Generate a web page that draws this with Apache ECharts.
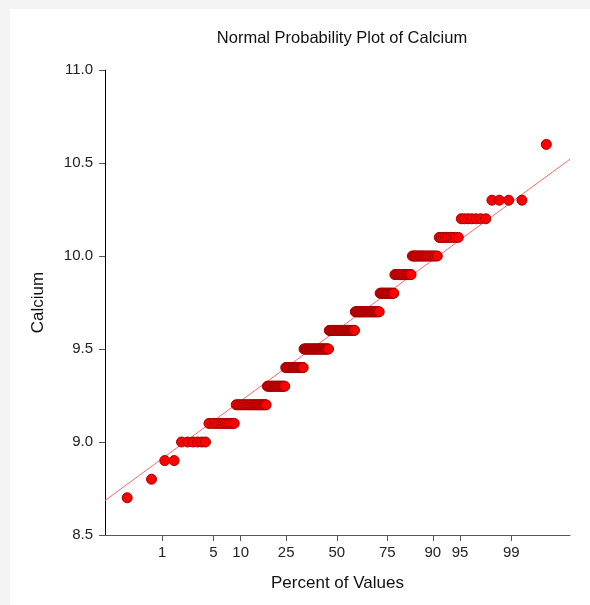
<!DOCTYPE html>
<html>
<head>
<meta charset="utf-8">
<script src="https://cdn.jsdelivr.net/npm/echarts@6/dist/echarts.min.js"></script>
<style>
html,body{margin:0;padding:0;background:#f4f4f4;}
#chart{width:590px;height:605px;}
</style>
</head>
<body>
<div id="chart"></div>
<script>
// Calcium values (distinct) and how many observations share each value
const calciumValues = [8.7, 8.8, 8.9, 9.0, 9.1, 9.2, 9.3, 9.4, 9.5, 9.6, 9.7, 9.8, 9.9, 10.0, 10.1, 10.2, 10.3, 10.6];
const calciumCounts = [1, 1, 2, 6, 11, 21, 17, 20, 31, 33, 29, 15, 15, 17, 9, 7, 4, 1];
// Percent tick labels on the normal-probability axis
const percentTicks = [1, 5, 10, 25, 50, 75, 90, 95, 99];
// Y tick labels
const yTicks = [8.5, 9.0, 9.5, 10.0, 10.5, 11.0];
// Reference line (value = intercept + slope * normal score)
const refIntercept = 9.6;
const refSlope = 0.296;

// inverse standard normal CDF (Acklam)
function qnorm(p) {
  const a = [-3.969683028665376e+01, 2.209460984245205e+02, -2.759285104469687e+02, 1.383577518672690e+02, -3.066479806614716e+01, 2.506628277459239e+00];
  const b = [-5.447609879822406e+01, 1.615858368580409e+02, -1.556989798598866e+02, 6.680131188771972e+01, -1.328068155288572e+01];
  const c = [-7.784894002430293e-03, -3.223964580411365e-01, -2.400758277161838e+00, -2.549732539343734e+00, 4.374664141464968e+00, 2.938163982698783e+00];
  const d = [7.784695709041462e-03, 3.224671290700398e-01, 2.445134137142996e+00, 3.754408661907416e+00];
  const pl = 0.02425, ph = 1 - pl;
  let q, r;
  if (p < pl) {
    q = Math.sqrt(-2 * Math.log(p));
    return (((((c[0]*q+c[1])*q+c[2])*q+c[3])*q+c[4])*q+c[5]) / ((((d[0]*q+d[1])*q+d[2])*q+d[3])*q+1);
  } else if (p <= ph) {
    q = p - 0.5; r = q*q;
    return (((((a[0]*r+a[1])*r+a[2])*r+a[3])*r+a[4])*r+a[5])*q / (((((b[0]*r+b[1])*r+b[2])*r+b[3])*r+b[4])*r+1);
  } else {
    q = Math.sqrt(-2 * Math.log(1 - p));
    return -(((((c[0]*q+c[1])*q+c[2])*q+c[3])*q+c[4])*q+c[5]) / ((((d[0]*q+d[1])*q+d[2])*q+d[3])*q+1);
  }
}

// build sorted observations and their normal scores (Blom)
const obs = [];
calciumValues.forEach((v, k) => { for (let j = 0; j < calciumCounts[k]; j++) obs.push(v); });
const n = obs.length;
const points = obs.map((v, idx) => [qnorm((idx + 1 - 0.375) / (n + 0.25)), v]);

const xMin = -3.09, xMax = 3.11;
const tickZ = percentTicks.map(p => qnorm(p / 100));
const refData = [[xMin, refIntercept + refSlope * xMin], [xMax, refIntercept + refSlope * xMax]];

const chart = echarts.init(document.getElementById('chart'), null, {renderer: 'canvas'});
const font = 'Liberation Sans, Arial, sans-serif';
chart.setOption({
  backgroundColor: '#f4f4f4',
  animation: false,
  textStyle: {fontFamily: font},
  graphic: [{
    type: 'rect', z: -10, silent: true,
    shape: {x: 10, y: 9, width: 590, height: 610},
    style: {fill: '#ffffff'}
  }],
  title: {
    text: 'Normal Probability Plot of Calcium',
    left: 337, top: 25, textAlign: 'center',
    textStyle: {fontFamily: font, fontSize: 16.5, fontWeight: 'normal', color: '#111'}
  },
  grid: {left: 105, right: 20, top: 70, bottom: 70, containLabel: false},
  xAxis: {
    type: 'value', min: xMin, max: xMax,
    name: 'Percent of Values', nameLocation: 'middle', nameGap: 40,
    nameTextStyle: {fontFamily: font, fontSize: 17, color: '#111'},
    axisLine: {show: true, onZero: false, lineStyle: {color: '#555', width: 1}},
    axisTick: {show: true, length: 6, lineStyle: {color: '#555'}, customValues: tickZ},
    axisLabel: {
      fontFamily: font, fontSize: 15, color: '#222', margin: 10,
      customValues: tickZ,
      formatter: function (val) {
        let best = 0, bd = 1e9;
        tickZ.forEach((z, i) => { const dd = Math.abs(z - val); if (dd < bd) { bd = dd; best = i; } });
        return String(percentTicks[best]);
      }
    },
    splitLine: {show: false}
  },
  yAxis: {
    type: 'value', min: 8.5, max: 11.0, interval: 0.5,
    name: 'Calcium', nameLocation: 'middle', nameGap: 58, nameRotate: 90,
    nameTextStyle: {fontFamily: font, fontSize: 17, color: '#111'},
    axisLine: {show: true, onZero: false, lineStyle: {color: '#000', width: 1}},
    axisTick: {show: true, length: 6, lineStyle: {color: '#555'}},
    axisLabel: {
      fontFamily: font, fontSize: 15, color: '#222', margin: 12,
      formatter: v => (yTicks.find(t => Math.abs(t - v) < 1e-6) ?? v).toFixed(1)
    },
    splitLine: {show: false}
  },
  series: [
    {
      type: 'line', data: refData, symbol: 'none', silent: true,
      lineStyle: {color: '#ff6666', width: 1}, z: 1
    },
    {
      type: 'scatter', data: points, symbol: 'circle', symbolSize: 10,
      itemStyle: {color: '#ff0000', borderColor: '#a00000', borderWidth: 1, opacity: 1},
      z: 2
    }
  ]
});
</script>
</body>
</html>
